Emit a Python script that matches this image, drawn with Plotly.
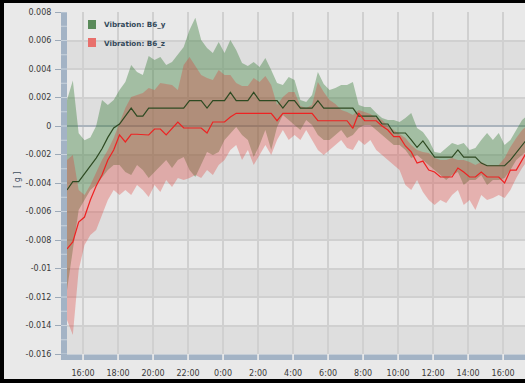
import plotly.graph_objects as go
import pandas as pd

# ---- data (g) sampled every 20 minutes starting 15:05 ----
times = pd.date_range("2013-05-01 15:05", periods=80, freq="20min")

b6_y_line = [-0.00449, -0.00391, -0.00391, -0.00337, -0.00281, -0.00225, -0.00160, -0.00080, -0.00014, 0.00014,
             0.00070, 0.00126, 0.00070, 0.00070, 0.00126, 0.00126, 0.00126, 0.00126, 0.00126, 0.00126,
             0.00126, 0.00178, 0.00178, 0.00178, 0.00126, 0.00178, 0.00178, 0.00178, 0.00236, 0.00178,
             0.00178, 0.00178, 0.00236, 0.00178, 0.00178, 0.00178, 0.00178, 0.00126, 0.00178, 0.00178,
             0.00126, 0.00126, 0.00126, 0.00178, 0.00126, 0.00126, 0.00126, 0.00126, 0.00126, 0.00126,
             0.00070, 0.00070, 0.00070, 0.00070, 0.00014, 0.00014, -0.00049, -0.00049, -0.00049, -0.00098,
             -0.00150, -0.00105, -0.00161, -0.00218, -0.00218, -0.00218, -0.00218, -0.00168, -0.00218, -0.00218,
             -0.00218, -0.00260, -0.00279, -0.00279, -0.00279, -0.00279, -0.00239, -0.00189, -0.00133, -0.00084]

b6_z_line = [-0.00863, -0.00814, -0.00674, -0.00639, -0.00519, -0.00421, -0.00344, -0.00239, -0.00168, -0.00063,
             -0.00112, -0.00058, -0.00058, -0.00058, -0.00063, -0.00021, -0.00021, -0.00063, -0.00021, 0.00028,
             -0.00014, -0.00014, -0.00014, -0.00014, -0.00049, 0.00028, 0.00028, 0.00028, 0.00063, 0.00089,
             0.00089, 0.00089, 0.00089, 0.00089, 0.00089, 0.00089, 0.00037, 0.00089, 0.00089, 0.00089,
             0.00089, 0.00089, 0.00089, 0.00037, 0.00037, 0.00037, 0.00037, 0.00037, 0.00037, -0.00016,
             0.00091, 0.00037, 0.00037, 0.00037, 0.00000, -0.00028, -0.00075, -0.00075, -0.00140, -0.00182,
             -0.00260, -0.00246, -0.00309, -0.00323, -0.00358, -0.00358, -0.00358, -0.00295, -0.00323, -0.00358,
             -0.00358, -0.00323, -0.00358, -0.00358, -0.00358, -0.00400, -0.00309, -0.00309, -0.00239, -0.00168]

b6_y_max = [0.00182, 0.00320, -0.00050, -0.00100, -0.00080, 0.00000, 0.00182, 0.00147, 0.00182, 0.00253,
            0.00309, 0.00428, 0.00379, 0.00358, 0.00491, 0.00463, 0.00484, 0.00428, 0.00449, 0.00498,
            0.00554, 0.00674, 0.00760, 0.00604, 0.00547, 0.00512, 0.00589, 0.00512, 0.00604, 0.00533,
            0.00442, 0.00421, 0.00449, 0.00414, 0.00477, 0.00393, 0.00302, 0.00288, 0.00344, 0.00323,
            0.00182, 0.00168, 0.00218, 0.00379, 0.00295, 0.00253, 0.00267, 0.00288, 0.00288, 0.00309,
            0.00147, 0.00133, 0.00133, 0.00091, 0.00056, 0.00042, 0.00042, 0.00028, 0.00056, 0.00091,
            -0.00014, -0.00042, -0.00098, -0.00182, -0.00189, -0.00154, -0.00119, -0.00133, -0.00119, -0.00168,
            -0.00154, -0.00098, -0.00049, -0.00098, -0.00049, -0.00133, -0.00098, -0.00028, 0.00042, 0.00077]

b6_y_min = [-0.01151, -0.00870, -0.00589, -0.00519, -0.00449, -0.00414, -0.00365, -0.00309, -0.00274, -0.00274,
            -0.00323, -0.00344, -0.00274, -0.00309, -0.00365, -0.00323, -0.00274, -0.00239, -0.00295, -0.00239,
            -0.00218, -0.00309, -0.00358, -0.00274, -0.00182, -0.00204, -0.00182, -0.00098, -0.00049, -0.00007,
            -0.00063, -0.00098, -0.00218, -0.00133, -0.00028, -0.00168, -0.00007, 0.00077, 0.00042, 0.00007,
            -0.00028, 0.00042, 0.00007, -0.00063, -0.00098, -0.00098, -0.00063, -0.00028, -0.00084, -0.00063,
            -0.00014, 0.00007, 0.00007, -0.00028, -0.00063, -0.00098, -0.00133, -0.00133, -0.00168, -0.00225,
            -0.00204, -0.00239, -0.00274, -0.00309, -0.00344, -0.00379, -0.00344, -0.00323, -0.00414, -0.00379,
            -0.00379, -0.00344, -0.00414, -0.00379, -0.00379, -0.00365, -0.00309, -0.00239, -0.00204, -0.00168]

b6_z_max = [-0.00239, -0.00204, -0.00449, -0.00484, -0.00414, -0.00323, -0.00239, -0.00168, -0.00084, 0.00021,
            0.00126, 0.00204, 0.00218, 0.00232, 0.00267, 0.00253, 0.00302, 0.00295, 0.00288, 0.00253,
            0.00428, 0.00484, 0.00421, 0.00358, 0.00337, 0.00323, 0.00393, 0.00358, 0.00358, 0.00302,
            0.00281, 0.00281, 0.00337, 0.00309, 0.00351, 0.00288, 0.00147, 0.00204, 0.00239, 0.00239,
            0.00140, 0.00126, 0.00147, 0.00309, 0.00239, 0.00182, 0.00154, 0.00112, 0.00098, 0.00077,
            0.00112, 0.00098, 0.00084, 0.00056, 0.00042, 0.00000, -0.00028, -0.00056, -0.00084, -0.00133,
            -0.00168, -0.00182, -0.00189, -0.00225, -0.00239, -0.00239, -0.00225, -0.00239, -0.00239, -0.00253,
            -0.00274, -0.00253, -0.00274, -0.00274, -0.00274, -0.00225, -0.00147, -0.00084, -0.00028, 0.00007]

b6_z_min = [-0.01361, -0.01467, -0.01011, -0.00835, -0.00765, -0.00730, -0.00625, -0.00519, -0.00449, -0.00484,
            -0.00449, -0.00484, -0.00414, -0.00449, -0.00498, -0.00414, -0.00463, -0.00379, -0.00428, -0.00365,
            -0.00379, -0.00365, -0.00344, -0.00365, -0.00309, -0.00344, -0.00274, -0.00239, -0.00168, -0.00133,
            -0.00239, -0.00168, -0.00274, -0.00204, -0.00133, -0.00204, -0.00098, -0.00028, -0.00098, -0.00063,
            -0.00098, -0.00028, -0.00098, -0.00168, -0.00204, -0.00168, -0.00133, -0.00098, -0.00154, -0.00168,
            -0.00098, -0.00133, -0.00098, -0.00168, -0.00204, -0.00239, -0.00274, -0.00309, -0.00414, -0.00449,
            -0.00379, -0.00463, -0.00519, -0.00554, -0.00519, -0.00540, -0.00484, -0.00449, -0.00554, -0.00519,
            -0.00589, -0.00484, -0.00519, -0.00505, -0.00484, -0.00505, -0.00449, -0.00365, -0.00295, -0.00239]

series_names = ["Vibration: B6_y", "Vibration: B6_z"]
y_tickvals = [0.008, 0.006, 0.004, 0.002, 0, -0.002, -0.004, -0.006, -0.008, -0.01, -0.012, -0.014, -0.016]
y_ticktext = ["0.008", "0.006", "0.004", "0.002", "0", "-0.002", "-0.004", "-0.006", "-0.008",
              "-0.01", "-0.012", "-0.014", "-0.016"]
x_range = ["2013-05-01 15:05", "2013-05-02 17:15"]

# ---- geometry ----
W, H = 525, 383
ML, MR, MT, MB = 67, 0, 12, 29
PW, PH = W - ML - MR, H - MT - MB
def px(x):  # pixel -> paper x
    return (x - ML) / PW
def py(y):  # pixel -> paper y
    return (H - MB - y) / PH

GREEN_FILL = "rgba(58,125,58,0.40)"
RED_FILL = "rgba(222,50,42,0.30)"
FONT = "DejaVu Sans"

fig = go.Figure()
fig.add_trace(go.Scatter(x=times, y=b6_y_min, mode="lines", line=dict(width=0), hoverinfo="skip", showlegend=False))
fig.add_trace(go.Scatter(x=times, y=b6_y_max, mode="lines", line=dict(width=0), fill="tonexty",
                         fillcolor=GREEN_FILL, hoverinfo="skip", showlegend=False))
fig.add_trace(go.Scatter(x=times, y=b6_z_min, mode="lines", line=dict(width=0), hoverinfo="skip", showlegend=False))
fig.add_trace(go.Scatter(x=times, y=b6_z_max, mode="lines", line=dict(width=0), fill="tonexty",
                         fillcolor=RED_FILL, hoverinfo="skip", showlegend=False))
fig.add_trace(go.Scatter(x=times, y=b6_y_line, mode="lines", line=dict(color="#2e4a22", width=1.2),
                         name=series_names[0], showlegend=False))
fig.add_trace(go.Scatter(x=times, y=b6_z_line, mode="lines", line=dict(color="#ee2222", width=1.2),
                         name=series_names[1], showlegend=False))

shapes = []
# alternating darker bands
for lo in [0.004, 0.0, -0.004, -0.008, -0.012, -0.016]:
    shapes.append(dict(type="rect", xref="paper", yref="y", x0=0, x1=1, y0=lo, y1=lo + 0.002,
                       fillcolor="#dedede", line=dict(width=0), layer="below"))
# axis bars
BAR = "#a3b3c5"
shapes.append(dict(type="rect", xref="paper", yref="paper", x0=px(61), x1=px(67), y0=py(360), y1=1,
                   fillcolor=BAR, line=dict(width=0), layer="above"))
for k in range(-16, 9):
    shapes.append(dict(type="line", xref="paper", yref="y", x0=px(61), x1=px(67), y0=k * 0.001, y1=k * 0.001,
                       line=dict(color="#c9d3dd", width=1), layer="above"))
x_lo, x_hi = pd.Timestamp(x_range[0]), pd.Timestamp(x_range[1])
seg_starts = pd.date_range("2013-05-01 14:00", "2013-05-02 16:00", freq="2h")
for t in seg_starts:
    a = max(t + pd.Timedelta(minutes=3), x_lo)
    b = min(t + pd.Timedelta(minutes=117), x_hi)
    shapes.append(dict(type="rect", xref="x", yref="paper", x0=a, x1=b,
                       y0=py(360), y1=py(354.5), fillcolor=BAR, line=dict(width=0), layer="above"))
# black frame (top, left, bottom), kept inside the figure
shapes.append(dict(type="rect", xref="paper", yref="paper", x0=px(0), x1=px(W), y0=py(3), y1=py(0),
                   fillcolor="#000", line=dict(width=0), layer="above"))
shapes.append(dict(type="rect", xref="paper", yref="paper", x0=px(0), x1=px(4), y0=py(H), y1=py(0),
                   fillcolor="#000", line=dict(width=0), layer="above"))
shapes.append(dict(type="rect", xref="paper", yref="paper", x0=px(0), x1=px(W), y0=py(H), y1=py(379),
                   fillcolor="#000", line=dict(width=0), layer="above"))
# legend squares
shapes.append(dict(type="rect", xref="paper", yref="paper", x0=px(88), x1=px(96), y0=py(29), y1=py(20),
                   fillcolor="#5a8a5a", line=dict(width=0), layer="above"))
shapes.append(dict(type="rect", xref="paper", yref="paper", x0=px(88), x1=px(96), y0=py(47), y1=py(38),
                   fillcolor="#e8706c", line=dict(width=0), layer="above"))

annotations = [
    dict(text=series_names[0], xref="paper", yref="paper", x=px(102), y=py(25), xanchor="left", yanchor="middle",
         showarrow=False, font=dict(family=FONT, size=7.2, color="#34495a", weight="bold")),
    dict(text=series_names[1], xref="paper", yref="paper", x=px(102), y=py(43), xanchor="left", yanchor="middle",
         showarrow=False, font=dict(family=FONT, size=7.2, color="#34495a", weight="bold")),
    dict(text="[ g ]", xref="paper", yref="paper", x=px(17), y=py(180), textangle=-90, xanchor="center",
         yanchor="middle", showarrow=False, font=dict(family=FONT, size=8, color="#3e4e5e")),
]

fig.update_layout(
    width=W, height=H, margin=dict(l=ML, r=MR, t=MT, b=MB, pad=0),
    paper_bgcolor="#e9e9e9", plot_bgcolor="#e9e9e9",
    font=dict(family=FONT, size=8, color="#3a3a3a"),
    shapes=shapes, annotations=annotations, showlegend=False,
    xaxis=dict(type="date", range=x_range, showgrid=True, gridcolor="#d0d0d0", gridwidth=1.5,
               dtick=7200000, tick0="2013-05-01 00:00", tickformat="%-H:%M", ticks="",
               showline=False, zeroline=False, ticklabelstandoff=13,
               tickfont=dict(family=FONT, size=8, color="#3a3a3a")),
    yaxis=dict(range=[-0.016, 0.008], tickvals=y_tickvals, ticktext=y_ticktext, showgrid=True,
               gridcolor="#d0d0d0", gridwidth=1.5, zeroline=True, zerolinecolor="#aab3bc", zerolinewidth=2,
               ticks="outside", ticklen=11, tickcolor="#9daab8", tickwidth=1, showline=False,
               ticklabelstandoff=2, tickfont=dict(family=FONT, size=8, color="#3a3a3a")),
)

fig.write_html("out.html", config={"displayModeBar": False},
               post_script="document.body.style.margin='0';document.body.style.overflow='hidden';")
